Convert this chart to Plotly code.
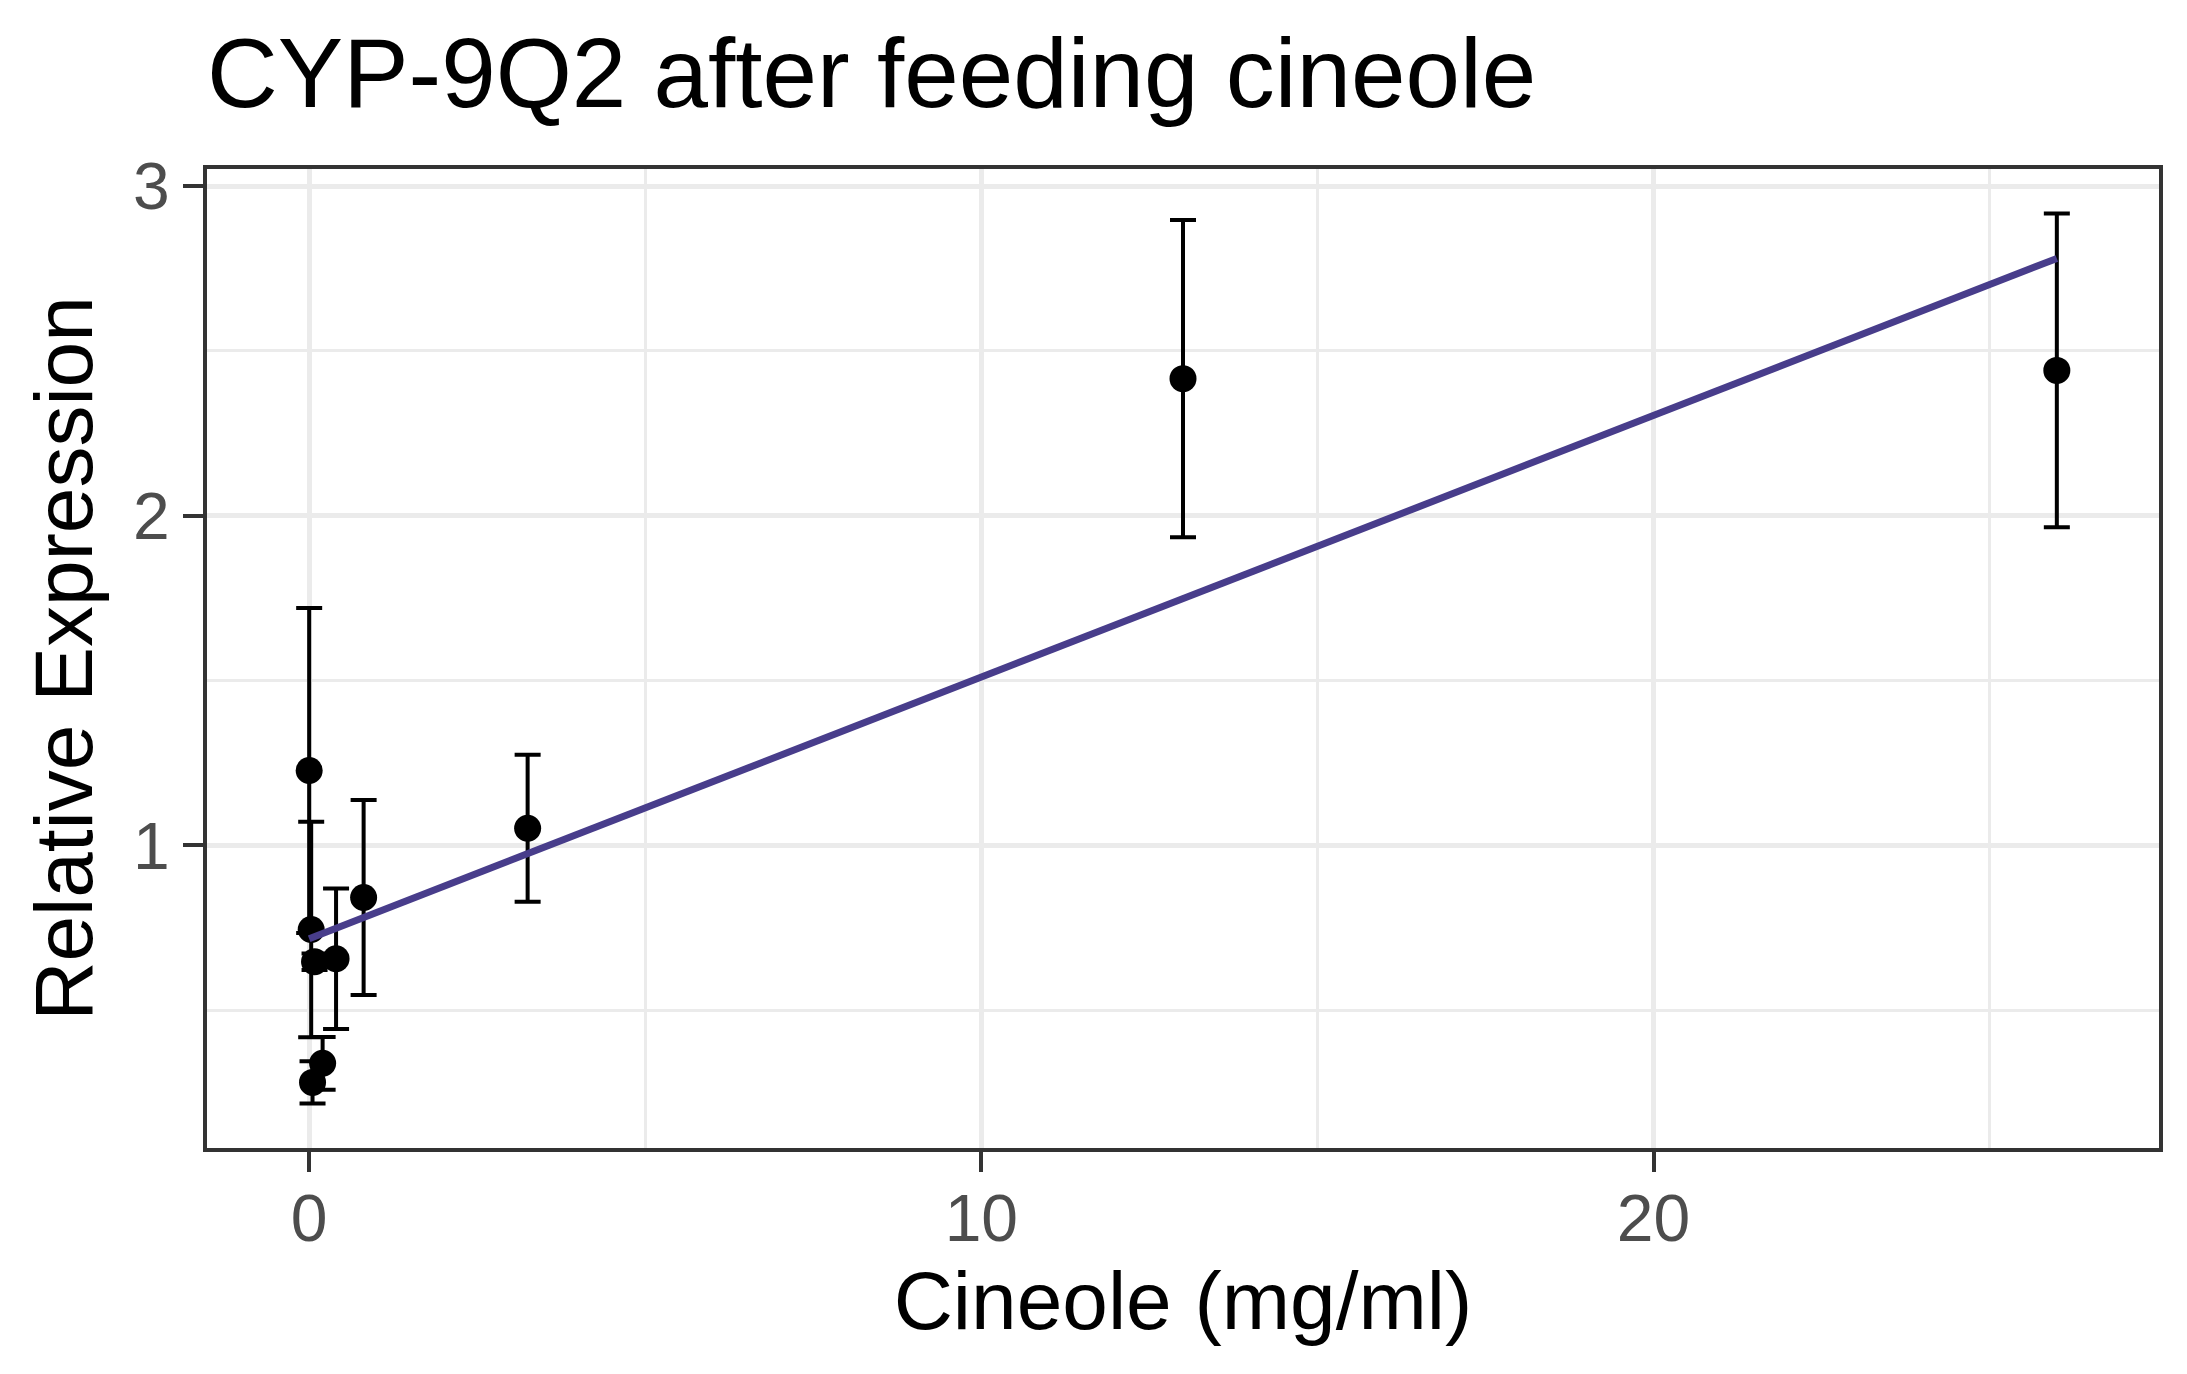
import numpy as np
import plotly.graph_objects as go

# mean relative expression per cineole dose, with its error (+/-)
cineole = [0, 0.03, 0.08, 0.05, 0.2, 0.4, 0.81, 3.25, 13, 26]
expression = [1.227, 0.745, 0.647, 0.281, 0.339, 0.656, 0.842, 1.052, 2.416, 2.441]
error = [0.493, 0.327, 0.025, 0.064, 0.08, 0.213, 0.296, 0.223, 0.481, 0.476]

x_ticks = [0, 10, 20]
y_ticks = [1, 2, 3]

# linear fit over the dose means
slope, intercept = np.polyfit(cineole, expression, 1)
fit_x = np.array([min(cineole), max(cineole)])
fit_y = intercept + slope * fit_x

fig = go.Figure()
fig.add_trace(go.Scatter(
    x=cineole, y=expression, mode="markers",
    marker=dict(color="black", size=27),
    error_y=dict(type="data", array=error, visible=True,
                 color="black", thickness=4, width=13),
    showlegend=False,
))
fig.add_trace(go.Scatter(
    x=fit_x, y=fit_y, mode="lines",
    line=dict(color="#483D8B", width=7),
    showlegend=False,
))

axis_style = dict(
    showline=True, linecolor="#333333", linewidth=4, mirror=True,
    ticks="outside", ticklen=20, tickwidth=4, tickcolor="#333333",
    tickfont=dict(family="Liberation Sans", size=66, color="#4D4D4D"),
    gridcolor="#EBEBEB", gridwidth=5, zeroline=False,
    minor=dict(showgrid=True, gridcolor="#EBEBEB", gridwidth=3, ticks=""),
)

fig.update_xaxes(
    range=[-1.52, 27.52], tickvals=x_ticks, minor_dtick=5, minor_tick0=5,
    ticklabelstandoff=-10,
    title=dict(text="Cineole (mg/ml)", standoff=8,
               font=dict(family="Liberation Sans", size=82, color="black")),
    **axis_style,
)
fig.update_yaxes(
    range=[0.082, 3.052], tickvals=y_ticks, minor_dtick=0.5, minor_tick0=0.5,
    title=dict(text="Relative Expression", standoff=14,
               font=dict(family="Liberation Sans", size=82, color="black")),
    **axis_style,
)

# page body keeps an 8px margin, so the figure is 16px smaller than the window
fig.update_layout(
    width=2171, height=1358,
    margin=dict(l=199, r=20, t=161, b=218),
    plot_bgcolor="white", paper_bgcolor="white",
    title=dict(text="CYP-9Q2 after feeding cineole", x=0, xref="paper",
               xanchor="left", y=0.952, yref="container", yanchor="middle",
               font=dict(family="Liberation Sans", size=98, color="black")),
)

fig.write_html("out.html")
